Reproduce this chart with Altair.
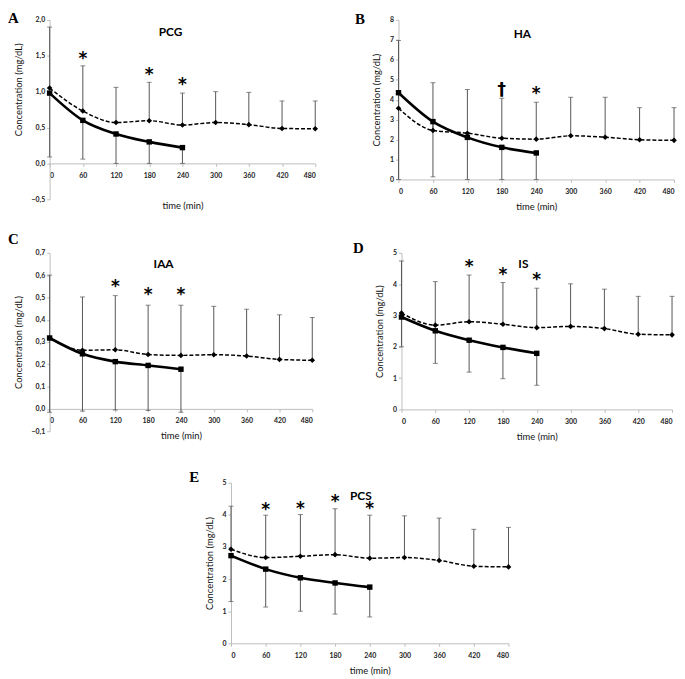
import altair as alt
import pandas as pd

times = [0, 60, 120, 180, 240, 300, 360, 420, 480]
solid_times = [0, 60, 120, 180, 240]

# Panel A - PCG
pcg_solid = [0.98, 0.60, 0.41, 0.30, 0.22]
pcg_dashed = [1.05, 0.73, 0.57, 0.595, 0.535, 0.57, 0.54, 0.487, 0.483]
pcg_upper = [1.90, 1.36, 1.06, 1.13, 0.98, 1.00, 0.99, 0.87, 0.87]
pcg_lower = [0.09, 0.06, 0.0, 0.0, 0.0]
pcg_sig_t = [60, 180, 240]
pcg_sig_y = [1.50, 1.27, 1.14]
pcg_sig_s = ["*", "*", "*"]
pcg_yticks = [-0.5, 0.0, 0.5, 1.0, 1.5, 2.0]

# Panel B - HA
ha_solid = [4.35, 2.90, 2.11, 1.61, 1.33]
ha_dashed = [3.57, 2.46, 2.32, 2.07, 2.02, 2.19, 2.12, 1.99, 1.96]
ha_upper = [6.97, 4.85, 4.51, 4.07, 3.87, 4.12, 4.12, 3.60, 3.60]
ha_lower = [0.0, 0.13, 0.0, 0.0, 0.0]
ha_sig_t = [180, 240]
ha_sig_y = [4.65, 4.45]
ha_sig_s = ["†", "*"]
ha_yticks = [0, 1, 2, 3, 4, 5, 6, 7, 8]

# Panel C - IAA
iaa_solid = [0.318, 0.247, 0.212, 0.195, 0.178]
iaa_dashed = [0.318, 0.263, 0.265, 0.244, 0.240, 0.243, 0.237, 0.222, 0.218]
iaa_upper = [0.60, 0.502, 0.508, 0.465, 0.465, 0.46, 0.447, 0.422, 0.41]
iaa_lower = [-0.015, -0.01, -0.005, -0.007, -0.015]
iaa_sig_t = [120, 180, 240]
iaa_sig_y = [0.562, 0.525, 0.525]
iaa_sig_s = ["*", "*", "*"]
iaa_yticks = [-0.1, 0.0, 0.1, 0.2, 0.3, 0.4, 0.5, 0.6, 0.7]

# Panel D - IS
is_solid = [2.95, 2.51, 2.21, 1.98, 1.79]
is_dashed = [3.08, 2.69, 2.80, 2.72, 2.61, 2.65, 2.58, 2.40, 2.38]
is_upper = [4.74, 4.08, 4.29, 4.05, 3.87, 4.01, 3.84, 3.61, 3.61]
is_lower = [2.0, 1.47, 1.19, 0.98, 0.77]
is_sig_t = [120, 180, 240]
is_sig_y = [4.63, 4.38, 4.22]
is_sig_s = ["*", "*", "*"]
is_yticks = [0, 1, 2, 3, 4, 5]

# Panel E - PCS
pcs_solid = [2.73, 2.31, 2.04, 1.88, 1.75]
pcs_dashed = [2.93, 2.67, 2.71, 2.76, 2.65, 2.67, 2.58, 2.40, 2.38]
pcs_upper = [4.27, 3.99, 4.01, 4.19, 3.99, 3.97, 3.90, 3.55, 3.61]
pcs_lower = [1.30, 1.13, 1.00, 0.91, 0.82]
pcs_sig_t = [60, 120, 180, 240]
pcs_sig_y = [4.23, 4.27, 4.49, 4.27]
pcs_sig_s = ["*", "*", "*", "*"]
pcs_yticks = [0, 1, 2, 3, 4, 5]

FONT = "Lato"
BAR = "#555555"
YT = "Concentration (mg/dL)"


def panel(solid, dashed, upper, lower, sig_t, sig_y, sig_s, yticks, decimals,
          w, h, name, name_xy, letter, letter_xy, axis_at_zero, top_ext,
          ytitle_y=None, xtitle_y=None):
    ymin, ymax = yticks[0], yticks[-1]
    dd = pd.DataFrame({"time": times, "dashed": dashed, "upper": upper})
    ds = pd.DataFrame({"time": solid_times, "solid": solid, "lower": lower})
    dm = pd.DataFrame({"time": sig_t, "y": sig_y, "sym": sig_s})
    one = pd.DataFrame({"a": [0]})

    ys = alt.Scale(domain=[ymin, ymax], nice=False, zero=False)
    xs = alt.Scale(domain=[0, 480], nice=False, zero=False)
    if decimals:
        lab = "replace(format(datum.value, '.1f'), '.', ',')"
    else:
        lab = "format(datum.value, 'd')"
    offset = -h * (0 - ymin) / (ymax - ymin) if axis_at_zero else 0
    xkw = dict(values=times, format="d", title="time (min)", offset=offset,
               tickSize=3, labelPadding=5, titlePadding=7)
    if xtitle_y is not None:
        xkw["titleY"] = xtitle_y
    xaxis = alt.Axis(**xkw)
    ykw = dict(values=yticks, labelExpr=lab, title=YT, tickSize=3, labelPadding=2,
               titlePadding=8)
    if ytitle_y is not None:
        ykw["titleY"] = ytitle_y
    yaxis = alt.Axis(**ykw)

    def X():
        return alt.X("time:Q", scale=xs, axis=xaxis, title="time (min)")

    def Y(f):
        return alt.Y(f, scale=ys, axis=yaxis, title=YT)

    up_rule = alt.Chart(dd).mark_rule(color=BAR, strokeWidth=1).encode(
        x=X(), y=Y("dashed:Q"), y2="upper:Q")
    up_cap = alt.Chart(dd).mark_tick(orient="horizontal", color=BAR, size=5, thickness=1).encode(
        x=X(), y=Y("upper:Q"))
    lo_rule = alt.Chart(ds).mark_rule(color=BAR, strokeWidth=1).encode(
        x=X(), y=Y("solid:Q"), y2="lower:Q")
    lo_cap = alt.Chart(ds).mark_tick(orient="horizontal", color=BAR, size=5, thickness=1).encode(
        x=X(), y=Y("lower:Q"))
    dline = alt.Chart(dd).mark_line(color="black", strokeWidth=1.5, strokeDash=[4, 2],
                                    interpolate="monotone").encode(x=X(), y=Y("dashed:Q"))
    dpts = alt.Chart(dd).mark_point(shape="diamond", filled=True, size=32, color="black",
                                    opacity=1).encode(x=X(), y=Y("dashed:Q"))
    sline = alt.Chart(ds).mark_line(color="black", strokeWidth=2.6,
                                    interpolate="monotone").encode(x=X(), y=Y("solid:Q"))
    spts = alt.Chart(ds).mark_point(shape="square", filled=True, size=30, color="black",
                                    opacity=1).encode(x=X(), y=Y("solid:Q"))
    sig = alt.Chart(dm).mark_text(font="DejaVu Sans", fontSize=17, fontWeight="bold",
                                  baseline="middle", dy=3, color="black").encode(
        x=X(), y=Y("y:Q"), text="sym:N")
    ttl = alt.Chart(one).mark_text(font=FONT, fontSize=12, fontWeight="bold",
                                   baseline="middle", align="center", color="black").encode(
        x=alt.value(name_xy[0]), y=alt.value(name_xy[1]), text=alt.value(name))
    let = alt.Chart(one).mark_text(font="Liberation Serif", fontSize=15, fontWeight="bold",
                                   baseline="top", align="left", color="black").encode(
        x=alt.value(letter_xy[0]), y=alt.value(letter_xy[1]), text=alt.value(letter))
    ext = alt.Chart(one).mark_rule(opacity=0).encode(
        x=alt.value(0), y=alt.value(top_ext), y2=alt.value(top_ext + 2))
    return alt.layer(up_rule, up_cap, lo_rule, lo_cap, dline, dpts, sline, spts, sig,
                     ttl, let, ext).properties(width=w, height=h)


A = panel(pcg_solid, pcg_dashed, pcg_upper, pcg_lower, pcg_sig_t, pcg_sig_y, pcg_sig_s,
          pcg_yticks, True, 268, 181, "PCG", (122, 12), "A", (-42, -9), True, -9, 70, 38)
B = panel(ha_solid, ha_dashed, ha_upper, ha_lower, ha_sig_t, ha_sig_y, ha_sig_s,
          ha_yticks, False, 278, 161, "HA", (125, 14), "B", (-44, -8), False, -8)
C = panel(iaa_solid, iaa_dashed, iaa_upper, iaa_lower, iaa_sig_t, iaa_sig_y, iaa_sig_s,
          iaa_yticks, True, 265, 180, "IAA", (115, 11), "C", (-42, -21), True, -21)
D = panel(is_solid, is_dashed, is_upper, is_lower, is_sig_t, is_sig_y, is_sig_s,
          is_yticks, False, 273, 158, "IS", (123, 11), "D", (-49, -12), False, -21)
E = panel(pcs_solid, pcs_dashed, pcs_upper, pcs_lower, pcs_sig_t, pcs_sig_y, pcs_sig_s,
          pcs_yticks, False, 280, 162, "PCS", (131, 13), "E", (-42, -13), False, -21)

spacer = alt.Chart(pd.DataFrame({"a": [0]})).mark_rule(opacity=0).encode(
    x=alt.value(0), y=alt.value(0), y2=alt.value(1)).properties(width=1, height=1)

row1 = alt.hconcat(A, B, spacing=37)
row2 = alt.hconcat(C, D, spacing=38)
row3 = alt.hconcat(spacer, E, spacing=140)

chart = alt.vconcat(row1, row2, row3, spacing=21).properties(
    padding=0
).configure_view(strokeWidth=0).configure_axis(
    domainColor="#bdbdbd", tickColor="#bdbdbd", labelColor="#222222",
    labelFont=FONT, labelFontSize=7, labelFontWeight="bold",
    titleFont=FONT, titleFontSize=9.5, titleFontWeight="normal", titleColor="#111111",
    grid=False
)

chart.save("out.html", embed_options={"renderer": "svg", "actions": False})
